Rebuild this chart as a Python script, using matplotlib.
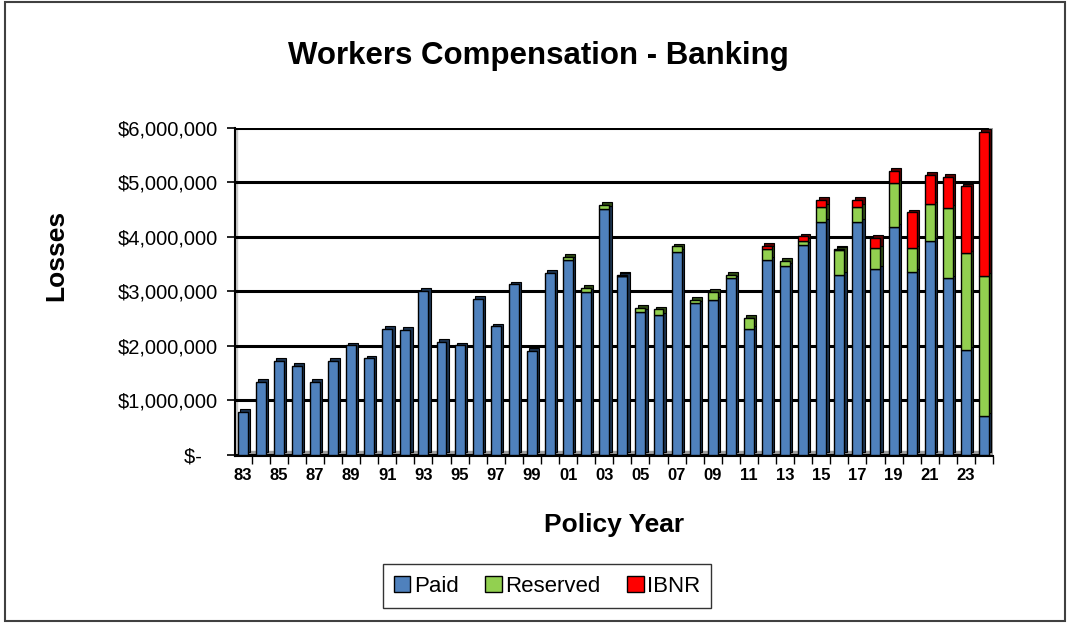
import numpy as np
import matplotlib
matplotlib.use("Agg")
import matplotlib.pyplot as plt
from matplotlib.patches import Rectangle, Patch
from matplotlib.ticker import FuncFormatter

plt.rcParams['font.family'] = ['Liberation Sans', 'DejaVu Sans']

years = ['83', '84', '85', '86', '87', '88', '89', '90', '91', '92', '93', '94', '95', '96',
         '97', '98', '99', '00', '01', '02', '03', '04', '05', '06', '07', '08', '09', '10',
         '11', '12', '13', '14', '15', '16', '17', '18', '19', '20', '21', '22', '23', '24']

# values in $ millions
paid = [0.79, 1.34, 1.72, 1.63, 1.34, 1.72, 2.01, 1.77, 2.32, 2.29, 3.01, 2.07, 2.01, 2.87,
        2.36, 3.13, 1.91, 3.34, 3.58, 2.99, 4.51, 3.28, 2.63, 2.56, 3.73, 2.78, 2.84, 3.24,
        2.31, 3.58, 3.47, 3.85, 4.28, 3.30, 4.28, 3.42, 4.18, 3.36, 3.93, 3.24, 1.93, 0.72]
reserved = [0, 0, 0, 0, 0, 0, 0, 0, 0, 0, 0, 0, 0, 0,
            0, 0, 0, 0, 0.06, 0.07, 0.08, 0.01, 0.07, 0.11, 0.10, 0.07, 0.15, 0.06,
            0.21, 0.20, 0.09, 0.08, 0.27, 0.47, 0.27, 0.37, 0.81, 0.43, 0.67, 1.30, 1.77, 2.57]
ibnr = [0, 0, 0, 0, 0, 0, 0, 0, 0, 0, 0, 0, 0, 0,
        0, 0, 0, 0, 0, 0, 0, 0.01, 0, 0, 0, 0, 0, 0,
        0, 0.06, 0, 0.08, 0.13, 0.01, 0.13, 0.20, 0.22, 0.66, 0.54, 0.56, 1.23, 2.64]

paid = np.array(paid) * 1e6
reserved = np.array(reserved) * 1e6
ibnr = np.array(ibnr) * 1e6
x = np.arange(len(years))

fig = plt.figure(figsize=(10.7, 6.24), dpi=100)
ax = fig.add_axes([235 / 1070, 1 - 456 / 624, 758 / 1070, 328 / 624])

# floor and left wall
ax.axhspan(-0.02e6, 0.08e6, color='#a0a0a0', zorder=0)
ax.axvspan(-0.42, -0.3, color='#c8c8c8', zorder=0)

ax.yaxis.grid(True, color='black', linewidth=2.2, zorder=1)
ax.set_axisbelow(True)

w = 0.55
dx = 0.13
dy = 0.05e6
segs = [(paid, np.zeros(len(x)), '#4f81bd', '#1c3350'),
        (reserved, paid, '#92d050', '#2e4a14'),
        (ibnr, paid + reserved, '#ff0000', '#5a0000')]
# side/top faces for a 3D look
for vals, base, col, dark in segs:
    m = vals > 0
    ax.bar(x[m] + dx, vals[m], w, bottom=base[m] + dy, color=dark,
           edgecolor='black', linewidth=0.8, zorder=2)
for vals, base, col, dark in segs:
    m = vals > 0
    ax.bar(x[m], vals[m], w, bottom=base[m], color=col,
           edgecolor='black', linewidth=1.0, zorder=3)

ax.set_xlim(-0.42, 41.4)
ax.set_ylim(-0.02e6, 6.0e6)
ax.set_yticks(np.arange(0, 6.01e6, 1e6))
ax.yaxis.set_major_formatter(FuncFormatter(
    lambda v, p: '$-   ' if v == 0 else '${:,.0f}'.format(v)))
ax.tick_params(axis='y', labelsize=14.5, length=6, width=1.2, pad=6)

ax.set_xticks(x[::2])
ax.set_xticklabels(years[::2], fontsize=12, fontweight='bold')
ax.set_xticks(x + 0.5, minor=True)
ax.tick_params(axis='x', which='major', length=0, pad=9)
ax.tick_params(axis='x', which='minor', length=6, width=1.0)

for s in ['top', 'right']:
    ax.spines[s].set_visible(False)
ax.spines['left'].set_linewidth(1.5)
ax.spines['bottom'].set_linewidth(1.5)
ax.axvline(41.4, color='#a0a0a0', linewidth=3, zorder=1)

ax.set_xlabel('Policy Year', fontsize=19, fontweight='bold', labelpad=21)
ax.set_ylabel('Losses', fontsize=19, fontweight='bold')
ax.yaxis.set_label_coords(-0.22, 0.61)
fig.text(538 / 1070, 1 - 56 / 624, 'Workers Compensation - Banking',
         ha='center', va='center', fontsize=22.5, fontweight='bold')

handles = [Patch(facecolor='#4f81bd', edgecolor='black', label='Paid'),
           Patch(facecolor='#92d050', edgecolor='black', label='Reserved'),
           Patch(facecolor='#ff0000', edgecolor='black', label='IBNR')]
leg = fig.legend(handles=handles, loc='center', bbox_to_anchor=(547 / 1070, 1 - 586 / 624),
                 ncol=3, fontsize=16, frameon=True, fancybox=False, handlelength=0.75,
                 handleheight=0.75, handletextpad=0.15, columnspacing=1.2, borderpad=0.5)
leg.get_frame().set_edgecolor('black')
leg.get_frame().set_linewidth(1.0)

fig.patches.append(Rectangle((5 / 1070, 3 / 624), 1060 / 1070, 619 / 624, transform=fig.transFigure,
                             fill=False, edgecolor='#404040', linewidth=1.5))

fig.savefig('out.png', dpi=100)
